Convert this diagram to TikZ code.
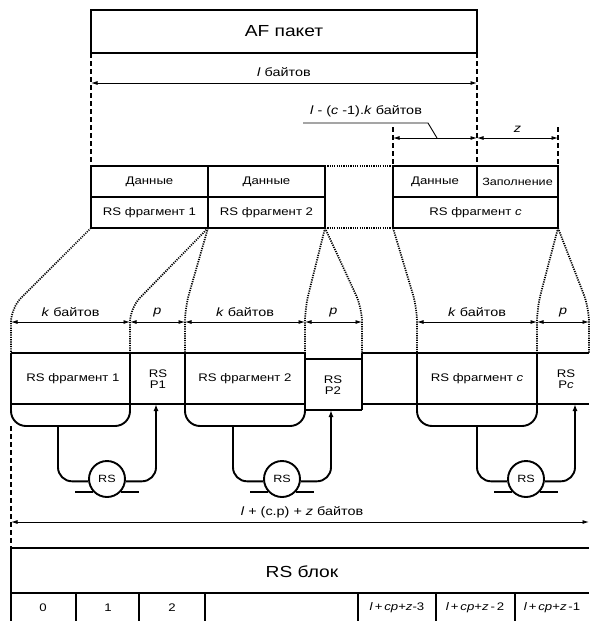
\documentclass[tikz,border=0pt]{standalone}
\usepackage{fontspec}
\setmainfont{Liberation Sans}[FakeStretch=1.2]
\usetikzlibrary{arrows.meta}
\begin{document}
\begin{tikzpicture}[x=1pt,y=-1pt,
  box/.style={draw, line width=1.9pt, inner sep=0pt, outer sep=0pt, anchor=north west, align=center, font=\fontsize{11}{12}\selectfont},
  thk/.style={line width=1.9pt},
  dimline/.style={line width=0.9pt, {Latex[length=6.5pt,width=4pt]}-{Latex[length=6.5pt,width=4pt]}},
  dashln/.style={line width=1.2pt, dash pattern=on 5pt off 3pt},
  dotln/.style={line width=1.7pt, dash pattern=on 1.2pt off 1.1pt, rounded corners=14pt},
  lbl/.style={inner sep=0pt, font=\fontsize{12}{14}\selectfont},
  btxt/.style={inner sep=0pt, align=center, font=\fontsize{11}{11.5}\selectfont},
  big/.style={font=\fontsize{16}{18}\selectfont},
  rsc/.style={draw, circle, line width=1.9pt, minimum size=36pt, inner sep=0pt, font=\fontsize{10.5}{12}\selectfont},
  uparr/.style={line width=1.9pt, rounded corners=14pt, -{Latex[length=7pt,width=5pt]}},
  downln/.style={line width=1.9pt, rounded corners=14pt}
]
\useasboundingbox (0,0) rectangle (589,621);

% AF packet
\node[box, big, minimum width=386pt, minimum height=43pt] (af) at (91,10) {AF пакет};

% data boxes
\node[box, minimum width=117pt, minimum height=31pt] (d1) at (91,166) {Данные};
\node[box, minimum width=117pt, minimum height=31pt] (f1) at (91,197) {RS фрагмент 1};
\node[box, minimum width=117pt, minimum height=31pt] (d2) at (208,166) {Данные};
\node[box, minimum width=117pt, minimum height=31pt] (f2) at (208,197) {RS фрагмент 2};
\node[box, minimum width=84pt, minimum height=31pt] (dc) at (393,166) {Данные};
\node[box, minimum width=81pt, minimum height=31pt, font=\fontsize{10.5}{12}\selectfont] (zc) at (477,166) {Заполнение};
\node[box, minimum width=165pt, minimum height=31pt] (fc) at (393,197) {RS фрагмент \textit{c}};

% dashed guides
\draw[dashln] (af.south west) -- (d1.north west);
\draw[dashln] (af.south east) -- (zc.north west);
\coordinate (gc1) at (393,127);
\coordinate (gc2) at (558,127);
\draw[dashln] (gc1) -- (dc.north west);
\draw[dashln] (gc2) -- (zc.north east);

% l bytes
\coordinate (la) at (91,83);
\coordinate (lb) at (477,83);
\draw[dimline] (la) -- (lb) node[midway, above=6pt, lbl] {\textit{l} байтов};

% l-(c-1)k and z
\coordinate (ka) at (393,138);
\coordinate (kb) at (477,138);
\coordinate (kz) at (558,138);
\draw[dimline] (ka) -- (kb);
\draw[dimline] (kb) -- (kz) node[midway, above=5pt, lbl] {\textit{z}};
\node[lbl] (lck) at (366,111) {\textit{l} - (\textit{c} -1).\textit{k} байтов};
\coordinate (ul1) at (303,123);
\coordinate (ul2) at (428,123);
\coordinate (ul3) at (437,138);
\draw[line width=0.9pt] (ul1) -- (ul2) -- (ul3);

% dotted continuation between boxes
\draw[dotln] (d2.north east) -- (dc.north west);
\draw[dotln] (f2.south east) -- (fc.south west);

% dotted fan-out lines
\coordinate (v1) at (11,353);
\coordinate (v2) at (130,353);
\coordinate (v3) at (185,353);
\coordinate (v4) at (305,353);
\coordinate (v5) at (362,353);
\coordinate (v6) at (417,353);
\coordinate (v7) at (537,353);
\coordinate (v8) at (589,353);
\draw[dotln] (f1.south west) -- (11,308) -- (v1);
\draw[dotln] (f1.south east) -- (130,308) -- (v2);
\draw[dotln] (f1.south east) -- (185,308) -- (v3);
\draw[dotln] (f2.south east) -- (305,308) -- (v4);
\draw[dotln] (f2.south east) -- (362,308) -- (v5);
\draw[dotln] (fc.south west) -- (417,308) -- (v6);
\draw[dotln] (fc.south east) -- (537,308) -- (v7);
\draw[dotln] (fc.south east) -- (589,308) -- (v8);

% dimension arrows k / p
\coordinate (a1) at (11,322);
\coordinate (a2) at (130,322);
\coordinate (a3) at (185,322);
\coordinate (a4) at (305,322);
\coordinate (a5) at (362,322);
\coordinate (a6) at (417,322);
\coordinate (a7) at (537,322);
\coordinate (a8) at (589,322);
\draw[dimline] (a1) -- (a2) node[midway, above=5pt, lbl] {\textit{k} байтов};
\draw[dimline] (a2) -- (a3) node[midway, above=5pt, lbl] {\textit{p}};
\draw[dimline] (a3) -- (a4) node[midway, above=5pt, lbl] {\textit{k} байтов};
\draw[dimline] (a4) -- (a5) node[midway, above=5pt, lbl] {\textit{p}};
\draw[dimline] (a6) -- (a7) node[midway, above=5pt, lbl] {\textit{k} байтов};
\draw[dimline] (a7) -- (a8) node[midway, above=5pt, lbl] {\textit{p}};

% bar
\draw[thk] (11,353) -- (305,353);
\draw[thk] (362,353) -- (589,353);
\draw[thk] (11,404) -- (305,404);
\draw[thk] (362,404) -- (589,404);
\draw[thk] (305,359) -- (362,359);
\draw[thk] (305,410) -- (362,410);
\draw[thk] (362,353) -- (362,410);
\draw[thk, rounded corners=15pt] (11,353) -- (11,426) -- (130,426) -- (130,353);
\draw[thk, rounded corners=15pt] (185,353) -- (185,426) -- (305,426) -- (305,353);
\draw[thk, rounded corners=15pt] (417,353) -- (417,426) -- (537,426) -- (537,353);

\node[btxt] (tf1) at (73,379) {RS фрагмент 1};
\node[btxt] (tp1) at (158,379) {RS\\P1};
\node[btxt] (tf2) at (245,379) {RS фрагмент 2};
\node[btxt] (tp2) at (333,385) {RS\\P2};
\node[btxt] (tfc) at (477,379) {RS фрагмент \textit{c}};
\node[btxt] (tpc) at (566,379) {RS\\P\textit{c}};

% encoders
\node[rsc] (c1) at (107,479) {RS};
\node[rsc] (c2) at (282,479) {RS};
\node[rsc] (c3) at (526,479) {RS};

\coordinate (o1) at (58,426);
\coordinate (i1) at (156,404);
\coordinate (o2) at (233,426);
\coordinate (i2) at (331,410);
\coordinate (o3) at (477,426);
\coordinate (i3) at (575,404);

\draw[downln] (o1) |- (c1.187);
\draw[uparr] (c1.-7) -| (i1);
\draw[downln] (o2) |- (c2.187);
\draw[uparr] (c2.-7) -| (i2);
\draw[downln] (o3) |- (c3.187);
\draw[uparr] (c3.-7) -| (i3);
\foreach \c in {c1,c2,c3}{
  \draw[thk] (\c.222) -- ++(-18,0);
  \draw[thk] (\c.318) -- ++(18,0);
}

% total
\coordinate (tl0) at (11,426);
\coordinate (tl1) at (11,548);
\draw[dashln] (tl0) -- (tl1);
\coordinate (ta) at (11,522);
\coordinate (tb) at (589,522);
\draw[dimline] (ta) -- (tb);
\node[lbl] (tlab) at (302,512) {\textit{l} + (c.p) + \textit{z} байтов};

% RS block
\draw[thk] (11,548) -- (589,548);
\draw[thk] (11,548) -- (11,621);
\draw[thk] (11,593) -- (589,593);
\foreach \x in {76,139,205,358,436,515}{
  \draw[thk] (\x,593) -- (\x,621);
}
\node[big] (rsb) at (302,572) {RS блок};
\node[btxt] (n0) at (43,608) {0};
\node[btxt] (n1) at (108,608) {1};
\node[btxt] (n2) at (172,608) {2};
\node[btxt] (n3) at (397,608) {\textit{l}\,+\,\textit{cp}+\textit{z}-3};
\node[btxt] (n4) at (475,608) {\textit{l}\,+\,\textit{cp}+\textit{z}\,-\,2};
\node[btxt] (n5) at (552,608) {\textit{l}\,+\,\textit{cp}+\textit{z}\,-1};
\end{tikzpicture}
\end{document}
